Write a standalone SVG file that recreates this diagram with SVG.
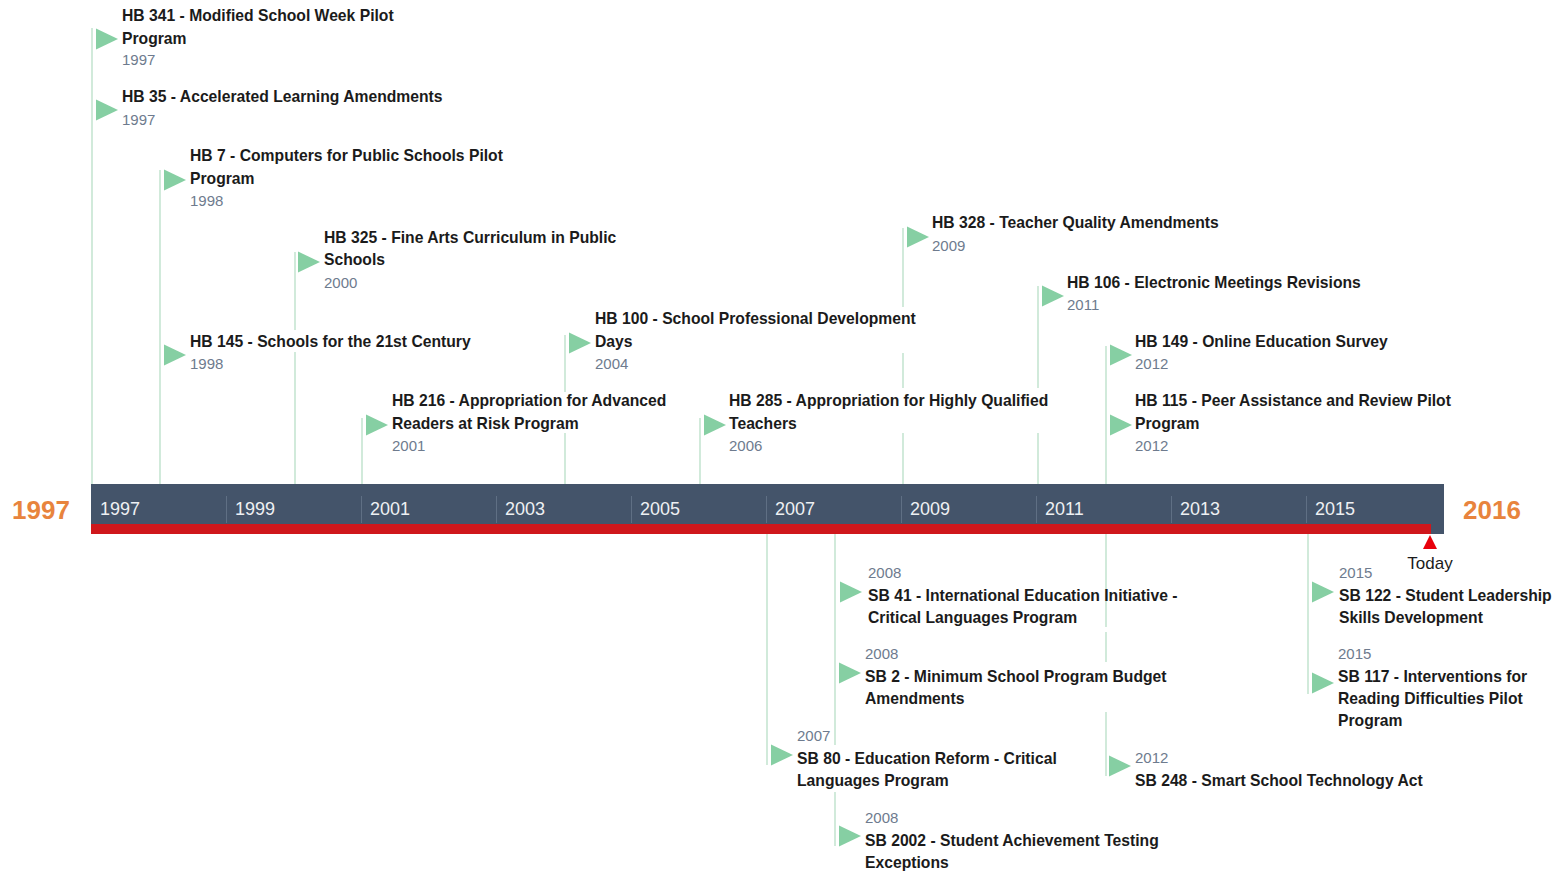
<svg xmlns="http://www.w3.org/2000/svg" width="1562" height="872" viewBox="0 0 1562 872">
<style>
.t{font-family:"Liberation Sans",Arial,sans-serif;font-weight:bold;font-size:15.7px;fill:#1b1b1b}
.y{font-family:"Liberation Sans",Arial,sans-serif;font-size:15px;fill:#6e7b8e}
.by{font-family:"Liberation Sans",Arial,sans-serif;font-size:18px;fill:#eef0f3}
.big{font-family:"Liberation Sans",Arial,sans-serif;font-weight:bold;font-size:26px;fill:#e8843d}
.flag{fill:#86cfa3}
.ln{stroke:#c6e5d2;stroke-width:1.6;fill:none}
.tick{stroke:#5f6f84;stroke-width:1}
</style>
<defs>
<polygon id="fl" class="flag" points="0,-10.5 22,0 0,10.5"/>
</defs>
<rect width="1562" height="872" fill="#ffffff"/>

<g id="connectors">
<path class="ln" d="M92,28V484 M160,170V484 M295,252V330 M295,352V484 M362,418V484 M565,335V392 M565,433V484 M700,418V484 M903,228V307 M903,353V388 M903,433V484 M1038,286V388 M1038,433V484 M1106,346V484"/>
<path class="ln" d="M767,534V765 M835,534V745 M835,792V846 M1106,534V627 M1106,632V662 M1106,712V776 M1308,534V694"/>
</g>

<g id="timeline">
<rect x="91" y="484" width="1353" height="50" fill="#44546a"/>
<rect x="91" y="524" width="1340" height="10" fill="#cf171c"/>
<path class="tick" d="M226.5,496V523 M361.5,496V523 M496.5,496V523 M631.5,496V523 M766.5,496V523 M901.5,496V523 M1036.5,496V523 M1171.5,496V523 M1306.5,496V523"/>
<text class="by" x="100" y="515">1997</text>
<text class="by" x="235" y="515">1999</text>
<text class="by" x="370" y="515">2001</text>
<text class="by" x="505" y="515">2003</text>
<text class="by" x="640" y="515">2005</text>
<text class="by" x="775" y="515">2007</text>
<text class="by" x="910" y="515">2009</text>
<text class="by" x="1045" y="515">2011</text>
<text class="by" x="1180" y="515">2013</text>
<text class="by" x="1315" y="515">2015</text>
<text class="big" x="12" y="519">1997</text>
<text class="big" x="1463" y="519">2016</text>
</g>

<g id="today">
<polygon points="1430,535 1423,549 1437,549" fill="#e8000b"/>
<text x="1430" y="569" text-anchor="middle" font-family="Liberation Sans, Arial, sans-serif" font-size="17" fill="#1b1b1b">Today</text>
</g>

<g id="hb341"><use href="#fl" x="96" y="39"/><text class="t" x="122" y="21">HB 341 - Modified School Week Pilot</text><text class="t" x="122" y="44">Program</text><text class="y" x="122" y="65">1997</text></g>
<g id="hb35"><use href="#fl" x="96" y="110"/><text class="t" x="122" y="102">HB 35 - Accelerated Learning Amendments</text><text class="y" x="122" y="125">1997</text></g>
<g id="hb7"><use href="#fl" x="164" y="180"/><text class="t" x="190" y="161">HB 7 - Computers for Public Schools Pilot</text><text class="t" x="190" y="184">Program</text><text class="y" x="190" y="206">1998</text></g>
<g id="hb325"><use href="#fl" x="298" y="262"/><text class="t" x="324" y="243">HB 325 - Fine Arts Curriculum in Public</text><text class="t" x="324" y="265">Schools</text><text class="y" x="324" y="288">2000</text></g>
<g id="hb145"><use href="#fl" x="164" y="355"/><text class="t" x="190" y="347">HB 145 - Schools for the 21st Century</text><text class="y" x="190" y="369">1998</text></g>
<g id="hb100"><use href="#fl" x="569" y="343"/><text class="t" x="595" y="324">HB 100 - School Professional Development</text><text class="t" x="595" y="347">Days</text><text class="y" x="595" y="369">2004</text></g>
<g id="hb216"><use href="#fl" x="366" y="425"/><text class="t" x="392" y="406">HB 216 - Appropriation for Advanced</text><text class="t" x="392" y="429">Readers at Risk Program</text><text class="y" x="392" y="451">2001</text></g>
<g id="hb285"><use href="#fl" x="704" y="425"/><text class="t" x="729" y="406">HB 285 - Appropriation for Highly Qualified</text><text class="t" x="729" y="429">Teachers</text><text class="y" x="729" y="451">2006</text></g>
<g id="hb328"><use href="#fl" x="907" y="237"/><text class="t" x="932" y="228">HB 328 - Teacher Quality Amendments</text><text class="y" x="932" y="251">2009</text></g>
<g id="hb106"><use href="#fl" x="1042" y="296"/><text class="t" x="1067" y="288">HB 106 - Electronic Meetings Revisions</text><text class="y" x="1067" y="310">2011</text></g>
<g id="hb149"><use href="#fl" x="1110" y="355"/><text class="t" x="1135" y="347">HB 149 - Online Education Survey</text><text class="y" x="1135" y="369">2012</text></g>
<g id="hb115"><use href="#fl" x="1110" y="425"/><text class="t" x="1135" y="406">HB 115 - Peer Assistance and Review Pilot</text><text class="t" x="1135" y="429">Program</text><text class="y" x="1135" y="451">2012</text></g>

<g id="sb41"><use href="#fl" x="840" y="592"/><text class="y" x="868" y="578">2008</text><text class="t" x="868" y="601">SB 41 - International Education Initiative -</text><text class="t" x="868" y="623">Critical Languages Program</text></g>
<g id="sb2"><use href="#fl" x="839" y="673"/><text class="y" x="865" y="659">2008</text><text class="t" x="865" y="682">SB 2 - Minimum School Program Budget</text><text class="t" x="865" y="704">Amendments</text></g>
<g id="sb80"><use href="#fl" x="771" y="755"/><text class="y" x="797" y="741">2007</text><text class="t" x="797" y="764">SB 80 - Education Reform - Critical</text><text class="t" x="797" y="786">Languages Program</text></g>
<g id="sb2002"><use href="#fl" x="839" y="836"/><text class="y" x="865" y="823">2008</text><text class="t" x="865" y="846">SB 2002 - Student Achievement Testing</text><text class="t" x="865" y="868">Exceptions</text></g>
<g id="sb248"><use href="#fl" x="1109" y="766"/><text class="y" x="1135" y="763">2012</text><text class="t" x="1135" y="786">SB 248 - Smart School Technology Act</text></g>
<g id="sb122"><use href="#fl" x="1312" y="592"/><text class="y" x="1339" y="578">2015</text><text class="t" x="1339" y="601">SB 122 - Student Leadership</text><text class="t" x="1339" y="623">Skills Development</text></g>
<g id="sb117"><use href="#fl" x="1312" y="683"/><text class="y" x="1338" y="659">2015</text><text class="t" x="1338" y="682">SB 117 - Interventions for</text><text class="t" x="1338" y="704">Reading Difficulties Pilot</text><text class="t" x="1338" y="726">Program</text></g>
</svg>
